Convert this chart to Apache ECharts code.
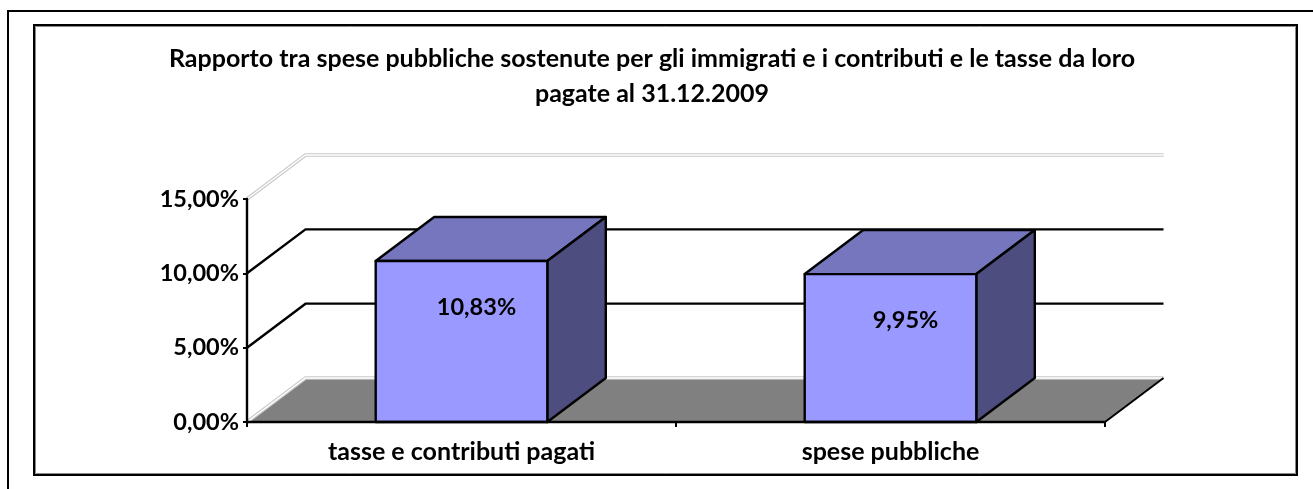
<!DOCTYPE html>
<html>
<head>
<meta charset="utf-8">
<style>
html,body{margin:0;padding:0;background:#fff;overflow:hidden}
#chart{width:1313px;height:489px}
</style>
<script src="https://cdn.jsdelivr.net/npm/echarts@6/dist/echarts.min.js"></script>
</head>
<body>
<div id="chart"></div>
<script>
var titleText = 'Rapporto tra spese pubbliche sostenute per gli immigrati e i contributi e le tasse da loro\npagate al 31.12.2009';
var categories = ['tasse e contributi pagati', 'spese pubbliche'];
var values = [10.83, 9.95];
var yTicks = [0, 5, 10, 15];

var fontName = 'Lato';
// depth of the fake 3d box, in pixels
var depthX = 58.5;
var depthY = 44;

function pct(v) {
    return v.toFixed(2).replace('.', ',') + '%';
}

function poly(points, fill) {
    return {
        type: 'polygon',
        shape: { points: points },
        style: { fill: fill, stroke: '#000', lineWidth: 2.4, lineJoin: 'round' }
    };
}

// back wall lines + floor
function renderWall(params, api) {
    var v = api.value(0);
    var cs = params.coordSys;
    var y = api.coord([0, v])[1];
    var x0 = cs.x, x1 = cs.x + cs.width;
    var pts = [[x0, y], [x0 + depthX, y - depthY], [x1 + depthX, y - depthY]];
    var children = [];
    if (v === 0) {
        children.push({
            type: 'polygon',
            shape: { points: [[x0, y], [x0 + depthX, y - depthY], [x1 + depthX, y - depthY], [x1, y]] },
            style: { fill: '#808080' }
        });
    }
    if (v === 0 || v === yTicks[yTicks.length - 1]) {
        children.push({ type: 'polyline', shape: { points: pts }, style: { fill: 'none', stroke: '#c8c8c8', lineWidth: 3.5 } });
        children.push({ type: 'polyline', shape: { points: pts }, style: { fill: 'none', stroke: '#fff', lineWidth: 1.5 } });
    } else {
        children.push({ type: 'polyline', shape: { points: pts }, style: { fill: 'none', stroke: '#000', lineWidth: 2.4 } });
    }
    if (v === 0) {
        // front right edge of the floor
        children.push({
            type: 'line',
            shape: { x1: x1, y1: y, x2: x1 + depthX, y2: y - depthY },
            style: { stroke: '#000', lineWidth: 2 }
        });
    }
    return { type: 'group', children: children };
}

function renderBox(params, api) {
    var i = api.value(0);
    var v = api.value(1);
    var top = api.coord([i, v]);
    var base = api.coord([i, 0]);
    var w = api.size([1, 0])[0] * 0.4;
    var l = top[0] - w / 2, r = top[0] + w / 2;
    return {
        type: 'group',
        children: [
            poly([[l, top[1]], [l + depthX, top[1] - depthY], [r + depthX, top[1] - depthY], [r, top[1]]], '#7676BE'),
            poly([[r, top[1]], [r + depthX, top[1] - depthY], [r + depthX, base[1] - depthY], [r, base[1]]], '#4D4D80'),
            poly([[l, top[1]], [r, top[1]], [r, base[1]], [l, base[1]]], '#9999FF'),
            {
                type: 'text',
                x: top[0] + 15,
                y: top[1] + 46,
                style: {
                    text: pct(v),
                    fill: '#000',
                    font: 'bold 23.5px ' + fontName,
                    align: 'center',
                    verticalAlign: 'middle'
                }
            }
        ]
    };
}

var myChart = echarts.init(document.getElementById('chart'));
var option = {
    backgroundColor: '#fff',
    animation: false,
    title: {
        text: titleText,
        left: 647,
        top: 36,
        textAlign: 'center',
        textStyle: {
            fontFamily: fontName,
            fontWeight: 'bold',
            fontSize: 25,
            lineHeight: 35,
            color: '#000'
        }
    },
    grid: {
        left: 247,
        right: 208,
        top: 199,
        bottom: 67
    },
    xAxis: {
        type: 'category',
        data: categories,
        z: 5,
        axisLine: { lineStyle: { color: '#000', width: 2.4 } },
        axisTick: { show: true, length: 5, lineStyle: { color: '#000', width: 2 } },
        axisLabel: { color: '#000', fontFamily: fontName, fontWeight: 'bold', fontSize: 25, margin: 17 }
    },
    yAxis: {
        type: 'value',
        min: 0,
        max: 15,
        interval: 5,
        z: 5,
        axisLine: { show: true, lineStyle: { color: '#000', width: 2.4 } },
        axisTick: { show: true, length: 4, lineStyle: { color: '#000', width: 2 } },
        axisLabel: {
            color: '#000', fontFamily: fontName, fontWeight: 'bold', fontSize: 23.5, margin: 8,
            formatter: function (v) { return pct(v); }
        },
        splitLine: { show: false }
    },
    graphic: [
        // outer and inner frames
        { type: 'polyline', shape: { points: [[8, 489], [8, 11], [1313, 11]] }, style: { fill: 'none', stroke: '#000', lineWidth: 2 }, silent: true },
        { type: 'rect', shape: { x: 34, y: 25, width: 1263, height: 450 }, style: { fill: 'none', stroke: '#000', lineWidth: 2 }, silent: true },
        { type: 'rect', shape: { x: 35.5, y: 26.5, width: 1260, height: 447 }, style: { fill: 'none', stroke: '#888', lineWidth: 1 }, silent: true }
    ],
    series: [
        {
            type: 'custom',
            z: 1,
            clip: false,
            silent: true,
            renderItem: renderWall,
            encode: { y: 0 },
            data: yTicks.map(function (t) { return [t]; })
        },
        {
            type: 'custom',
            z: 3,
            clip: false,
            silent: true,
            renderItem: renderBox,
            encode: { x: 0, y: 1 },
            data: values.map(function (v, i) { return [i, v]; })
        }
    ]
};
myChart.setOption(option);
</script>
</body>
</html>
